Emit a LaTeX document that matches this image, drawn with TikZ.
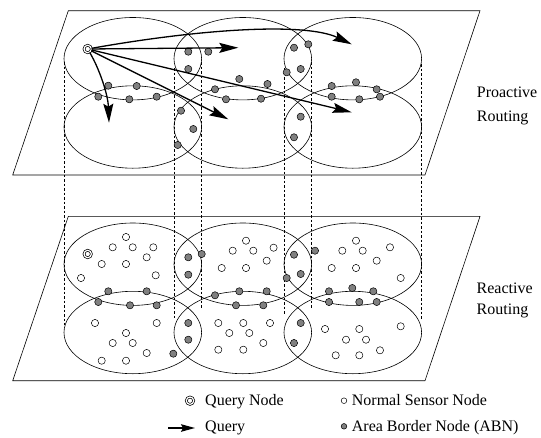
\documentclass[tikz,border=0pt]{standalone}
\usepackage{fontspec}
\setmainfont{Liberation Serif}
\usetikzlibrary{arrows.meta}
\tikzset{
  plane/.style={line width=0.6pt},
  area/.style={line width=0.6pt},
  proj/.style={line width=0.5pt, dash pattern=on 2.5pt off 2pt},
  abn/.style={circle, draw, fill=gray, inner sep=0pt, minimum size=7.2pt, line width=0.5pt},
  sensor/.style={circle, draw, fill=white, inner sep=0pt, minimum size=7.2pt, line width=0.5pt},
  querynode/.style={circle, draw, double, double distance=1.2pt, fill=white, inner sep=0pt, minimum size=7.4pt, line width=0.7pt},
  query/.style={line width=1.3pt, -{Stealth[length=19pt,width=10pt,inset=3pt]}},
  lbl/.style={font=\fontsize{16}{19}\selectfont, anchor=base west, inner sep=0pt}
}

\begin{document}
\begin{tikzpicture}[x=1pt, y=-1pt]
    \useasboundingbox (0,0) rectangle (541,437);

    % the two planes
    \draw[plane] (68.3,10.7) -- (480,10.7) -- (425,175) -- (12.7,175) -- cycle;
    \draw[plane] (68.3,216.4) -- (480,216.4) -- (425,380.7) -- (12.7,380.7) -- cycle;

    % areas
    \foreach \cx in {132.8,242.8,352.8}
      \foreach \cy in {58.7,127,264.2,332.5}
        \draw[area] (\cx,\cy) ellipse [x radius=68.8pt, y radius=41.2pt];

    % projection lines
    \foreach \x/\ya/\yb in {64/62/325, 174.3/68/318, 201.7/62/308, 284.3/68/315, 311.7/62/308, 421.7/64/320}
      \draw[proj] (\x,\ya) -- (\x,\yb);

    % proactive plane: border nodes
    \foreach \p [count=\i] in {(188.3,51.7),(208.3,51.7),(188.3,69),(239.3,79),(215,89.3),(226,99.3),(261,98.7),(267.5,84),
        (108.3,85.7),(136.7,86),(98.3,96.7),(129.3,99.3),(156.7,96.7),
        (181,110.7),(193.3,129),(177.7,145),
        (294,47.7),(308.3,44.3),(300.7,69),(286.7,72.3),
        (331.7,86),(356,82.3),(376.7,89.3),(331.7,96.7),(359.3,99.3),(380,96.7),
        (300.7,116.7),(294,137.3)}
      \node[abn] (pa\i) at \p {};

    % reactive plane: sensor nodes
    \foreach \p [count=\i] in {(126,237),(112.7,247.3),(132.7,247.3),(153.3,247.3),(146.7,257.3),(101.7,264),(126,264),(81,278),(155.7,275.3),
        (246,240.7),(232.7,250.7),(253.3,250.7),(273.6,247.7),(266.7,260.7),(221.7,268),(246,268),
        (356,240.7),(342.3,250.7),(362.7,250.7),(390,247.3),(376.7,260.7),(331.7,268),(356,268),(400.7,278),
        (95,323),(156.7,323),(126,333),(112.7,343),(132.7,343),(146.7,353),(101.7,360.7),(126,360.7),
        (218.3,323),(243.3,323),(270,323),(229.3,333),(249.3,333),(263.3,343),(218.3,349.7),(243.3,349.7),
        (325,329),(359.3,329),(400.7,326.3),(346,339.7),(366,339.7),(380,350.3),(335.7,355.3),(359.3,355.3)}
      \node[sensor] (rs\i) at \p {};

    % reactive plane: border nodes
    \foreach \p [count=\i] in {(188.3,257.3),(201.7,254),(188.3,274.7),
        (108.3,291.3),(146.7,291.3),(98.3,302),(130,305.3),(156.7,305.3),
        (215,295.3),(239.3,291.3),(266.7,291.3),(236,305.3),(263.3,305.3),
        (294,254.7),(315,250.7),(300.7,274),(286.7,278),
        (329,291.3),(352.3,288),(373.3,291.3),(329,302),(359.3,302),(376.7,302),
        (188.3,323),(188.3,339.7),(173.3,353.7),
        (300.7,323),(294,343)}
      \node[abn] (ra\i) at \p {};

    % query nodes
    \node[querynode] (q) at (87.7,49) {};
    \node[querynode] (qr) at (87.7,254) {};

    % queries
    \coordinate (e1) at (351.7,44.3);
    \coordinate (e2) at (238.3,47.7);
    \coordinate (e3) at (351.7,112.3);
    \coordinate (e4) at (228.3,119.3);
    \coordinate (e5) at (109,122.7);
    \draw[query] (q) .. controls (200,29) and (305,22) .. (e1);
    \draw[query] (q) -- (e2);
    \draw[query] (q) -- (e3);
    \draw[query] (q) -- (e4);
    \draw[query] (q) .. controls (100,70) and (108,95) .. (e5);

    \node[lbl] (pro1) at (476.7,97.7) {Proactive};
    \node[lbl] (pro2) at (476.7,121.3) {Routing};
    \node[lbl] (rea1) at (476.5,293) {Reactive};
    \node[lbl] (rea2) at (476.5,314.5) {Routing};

    % legend
    \node[querynode] (lq) at (190,400.7) {};
    \node[lbl] (lqt) at (205,405.3) {Query Node};
    \coordinate (la) at (168.3,428);
    \coordinate (lb) at (195,428);
    \draw[query, -{Stealth[length=14pt,width=7.5pt,inset=2pt]}] (la) -- (lb);
    \node[lbl] (lat) at (205,431.5) {Query};
    \node[sensor, minimum size=5.6pt] (ls) at (344,400.7) {};
    \node[lbl] (lst) at (351.7,405.3) {Normal Sensor Node};
    \node[abn, minimum size=5.6pt] (lg) at (344,426.3) {};
    \node[lbl] (lgt) at (351.7,431.3) {Area Border Node (ABN)};
\end{tikzpicture}
\end{document}
